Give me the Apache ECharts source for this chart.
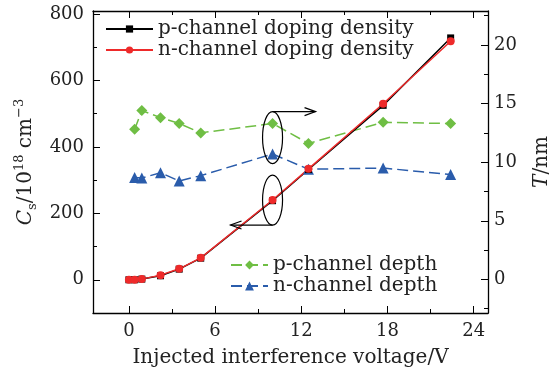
<!DOCTYPE html>
<html><head><meta charset="utf-8">
<script src="https://cdn.jsdelivr.net/npm/echarts@6/dist/echarts.min.js"></script>
<style>html,body{margin:0;padding:0;background:#fff}#c{width:552px;height:374px}</style>
</head><body><div id="c"></div>
<script>
var dopingX = [0, 0.4, 0.9, 2.2, 3.5, 5, 10, 12.5, 17.7, 22.4];
var pDoping = [0, 0, 2, 12, 32, 65, 238, 332, 525, 728];
var nDoping = [0, 0, 2, 14, 33, 66, 240, 334, 530, 718];
var depthX = [0.4, 0.9, 2.2, 3.5, 5, 10, 12.5, 17.7, 22.4];
var pDepth = [12.8, 14.4, 13.8, 13.3, 12.5, 13.3, 11.6, 13.4, 13.3];
var nDepth = [8.7, 8.65, 9.1, 8.4, 8.85, 10.7, 9.4, 9.5, 8.95];
var xTicks = [0, 6, 12, 18, 24];
var xMinor = [3, 9, 15, 21];
var csTicks = [0, 200, 400, 600, 800];
var csMinor = [-100, 100, 300, 500, 700];
var tTicks = [0, 5, 10, 15, 20];
var tMinor = [-2.5, 2.5, 7.5, 12.5, 17.5, 22.5];

function pairs(xs, ys){ return xs.map(function(x,i){return [x, ys[i]];}); }

var FONT = 'DejaVu Serif';
var TXT = 20;
var chart = echarts.init(document.getElementById('c'));
var lbl = {fontFamily: FONT, fontSize: 18, color: '#222'};
function xAx(show, ticks, len, pos, extra){
  return Object.assign({type:'value', min:-2.5, max:25, position: pos, splitLine:{show:false},
    axisLine:{show:show, onZero:false, lineStyle:{color:'#000', width:1.3}},
    axisTick:{show:true, inside:true, length:len, customValues:ticks, lineStyle:{color:'#000', width:1}},
    axisLabel:{show:false}}, extra || {});
}
function yAx(show, ticks, len, pos, mn, mx, extra){
  return Object.assign({type:'value', min:mn, max:mx, position: pos, splitLine:{show:false},
    axisLine:{show:show, onZero:false, lineStyle:{color:'#000', width:1.3}},
    axisTick:{show:true, inside:true, length:len, customValues:ticks, lineStyle:{color:'#000', width:1}},
    axisLabel:{show:false}}, extra || {});
}
var option = {
  animation:false,
  grid:{left:93, right:64, top:11, bottom:61, containLabel:false, outerBoundsMode:'none'},
  xAxis:[
    xAx(true, xTicks, 7, 'bottom', {
      axisLabel:Object.assign({show:true, customValues:xTicks, margin:9}, lbl),
      name:'Injected interference voltage/V', nameLocation:'middle', nameGap:35,
      nameTextStyle:{fontFamily:FONT, fontSize:TXT, color:'#222'}}),
    xAx(false, xMinor, 4, 'bottom'),
    xAx(true, xTicks, 7, 'top'),
    xAx(false, xMinor, 4, 'top')
  ],
  yAxis:[
    yAx(true, csTicks, 7, 'left', -100, 809, {
     axisLabel:Object.assign({show:true, customValues:csTicks, margin:9}, lbl),
     name:'{i|C}{sub|s}{n|/10}{sup|18}{n| cm}{sup|−3}', nameLocation:'middle', nameGap:52, nameRotate:90,
     nameTextStyle:{fontFamily:FONT, fontSize:TXT, color:'#222', rich:{
       i:{fontFamily:FONT, fontSize:TXT, fontStyle:'italic', lineHeight:26, verticalAlign:'middle', color:'#222'},
       n:{fontFamily:FONT, fontSize:TXT, lineHeight:26, verticalAlign:'middle', color:'#222'},
       sub:{fontFamily:FONT, fontSize:13, lineHeight:26, verticalAlign:'bottom', color:'#222'},
       sup:{fontFamily:FONT, fontSize:13, lineHeight:26, verticalAlign:'top', color:'#222'}}}}),
    yAx(true, tTicks, 7, 'right', -2.87, 22.9, {
     axisLabel:Object.assign({show:true, customValues:tTicks, margin:6}, lbl),
     name:'{i|T}{n|/nm}', nameLocation:'middle', nameGap:44, nameRotate:90,
     nameTextStyle:{fontFamily:FONT, fontSize:TXT, color:'#222', rich:{
       i:{fontFamily:FONT, fontSize:TXT, fontStyle:'italic', color:'#222'},
       n:{fontFamily:FONT, fontSize:TXT, color:'#222'}}}}),
    yAx(false, csMinor, 4, 'left', -100, 809),
    yAx(false, tMinor, 4, 'right', -2.87, 22.9)
  ],
  legend:[
    {left:100, top:14, orient:'vertical', itemWidth:47, itemHeight:9, itemGap:1,
     textStyle:{fontFamily:FONT, fontSize:TXT, color:'#222'},
     data:['p-channel doping density','n-channel doping density']},
    {left:225, top:250, orient:'vertical', itemWidth:37, itemHeight:11, itemGap:1,
     textStyle:{fontFamily:FONT, fontSize:TXT, color:'#222'},
     data:['p-channel depth','n-channel depth']}
  ],
  series:[
    {name:'p-channel depth', type:'line', xAxisIndex:0, yAxisIndex:1, data:pairs(depthX,pDepth),
     symbol:'diamond', symbolSize:11, color:'#6fbe44',
     lineStyle:{color:'#6fbe44', width:1.5, type:[11,5]}, itemStyle:{color:'#6fbe44'}},
    {name:'n-channel depth', type:'line', xAxisIndex:0, yAxisIndex:1, data:pairs(depthX,nDepth),
     symbol:'triangle', symbolSize:11, color:'#2a5cab',
     lineStyle:{color:'#2a5cab', width:1.5, type:[11,5]}, itemStyle:{color:'#2a5cab'}},
    {name:'p-channel doping density', type:'line', xAxisIndex:0, yAxisIndex:0, data:pairs(dopingX,pDoping),
     symbol:'rect', symbolSize:7, color:'#000', lineStyle:{color:'#000', width:1.5}, itemStyle:{color:'#000'}},
    {name:'n-channel doping density', type:'line', xAxisIndex:0, yAxisIndex:0, data:pairs(dopingX,nDoping),
     symbol:'circle', symbolSize:8, color:'#ee2a2a', lineStyle:{color:'#ee2a2a', width:1.5}, itemStyle:{color:'#ee2a2a'}}
  ]
};
chart.setOption(option);

// annotations anchored to data coordinates
var up = chart.convertToPixel({xAxisIndex:0, yAxisIndex:1}, [10, 12.1]);
var lo = chart.convertToPixel({xAxisIndex:0, yAxisIndex:0}, [10, 240]);
var stroke = {stroke:'#000', lineWidth:1.2, fill:'none'};
var upTop = up[1] - 26, loBot = lo[1] + 25;
chart.setOption({graphic:[
  {type:'ellipse', shape:{cx:up[0], cy:up[1], rx:10, ry:26}, style:stroke, z:100},
  {type:'ellipse', shape:{cx:lo[0], cy:lo[1], rx:10, ry:25}, style:stroke, z:100},
  {type:'polyline', shape:{points:[[up[0], upTop],[up[0]+43, upTop]]}, style:stroke, z:100},
  {type:'polyline', shape:{points:[[up[0]+32, upTop-4],[up[0]+43, upTop],[up[0]+32, upTop+4]]}, style:stroke, z:100},
  {type:'polyline', shape:{points:[[lo[0], loBot],[lo[0]-42, loBot]]}, style:stroke, z:100},
  {type:'polyline', shape:{points:[[lo[0]-31, loBot-4],[lo[0]-42, loBot],[lo[0]-31, loBot+4]]}, style:stroke, z:100}
]});
</script></body></html>
